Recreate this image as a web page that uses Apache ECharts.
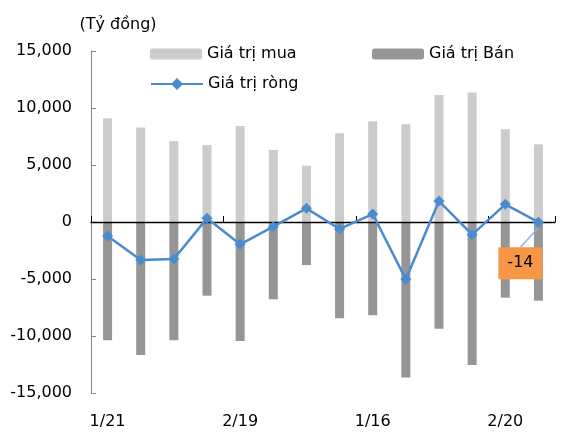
<!DOCTYPE html>
<html>
<head>
<meta charset="utf-8">
<script src="https://cdn.jsdelivr.net/npm/echarts@6/dist/echarts.min.js"></script>
<style>
html,body{margin:0;padding:0;background:#fff;}
#c{width:581px;height:435px;}
</style>
</head>
<body>
<div id="c"></div>
<script>
const categories = ['1/21','','','','2/19','','','','1/16','','','','2/20',''];
const buyValues  = [9100, 8280, 7100, 6750, 8420, 6320, 4940, 7780, 8830, 8570, 11140, 11370, 8130, 6810];
const sellValues = [-10380, -11670, -10380, -6460, -10440, -6780, -3780, -8450, -8190, -13630, -9360, -12540, -6640, -6900];
const netValues  = [-1230, -3330, -3250, 320, -1960, -410, 1200, -610, 700, -5030, 1840, -1110, 1550, -14];
const seriesNames = ['Giá trị mua', 'Giá trị Bán', 'Giá trị ròng'];
const yTicks = { min: -15000, max: 15000, interval: 5000 };
const unitLabel = '(Tỷ đồng)';

const FONT = 'DejaVu Sans';
const chart = echarts.init(document.getElementById('c'), null, {renderer: 'canvas'});
const fmt = v => (v < 0 ? '-' : '') + Math.abs(v).toString().replace(/\B(?=(\d{3})+(?!\d))/g, ',');

const lastIdx = netValues.length - 1;
const netData = netValues.map((v, i) => i === lastIdx ? {
  value: v,
  label: {
    show: true, position: 'inside', formatter: String(v),
    backgroundColor: '#F79646', color: '#000', fontSize: 16, fontFamily: FONT,
    padding: [7, 9, 6, 9], lineHeight: 19
  },
  labelLine: { show: true, lineStyle: { color: '#8DB4E2', width: 1.5 } }
} : v);

const legendBase = {
  itemWidth: 52, itemHeight: 11, itemGap: 10, padding: 0,
  textStyle: { fontSize: 16, color: '#000', fontFamily: FONT },
  selectedMode: false
};

chart.setOption({
  animation: false,
  textStyle: { fontFamily: FONT },
  grid: { left: 91, right: 26, top: 51, bottom: 42, containLabel: false },
  legend: [
    Object.assign({}, legendBase, { data: [seriesNames[0]], left: 150, top: 46 }),
    Object.assign({}, legendBase, { data: [seriesNames[1]], left: 372, top: 46 }),
    Object.assign({}, legendBase, { data: [seriesNames[2]], left: 150, top: 76, itemHeight: 15 })
  ],
  xAxis: [
    {
      type: 'category', data: categories, boundaryGap: true, z: 5,
      axisLine: { onZero: true, lineStyle: { color: '#000', width: 1.3 } },
      axisTick: { show: true, inside: true, length: 6, interval: 3, lineStyle: { color: '#000' } },
      axisLabel: { show: false }
    },
    {
      type: 'category', data: categories, boundaryGap: true, position: 'bottom',
      axisLine: { show: false, onZero: false }, axisTick: { show: false },
      axisLabel: { show: true, interval: 3, margin: 21, fontSize: 16, color: '#000', fontFamily: FONT }
    }
  ],
  yAxis: {
    type: 'value', min: yTicks.min, max: yTicks.max, interval: yTicks.interval,
    name: unitLabel, nameLocation: 'end', nameGap: 18,
    nameTextStyle: { fontSize: 16, color: '#000', fontFamily: FONT, align: 'center', padding: [0, 0, 0, 54] },
    axisLine: { show: true, lineStyle: { color: '#868686', width: 1 } },
    axisTick: { show: true, inside: true, length: 5, lineStyle: { color: '#868686' } },
    splitLine: { show: false },
    axisLabel: { margin: 19, fontSize: 16, color: '#000', fontFamily: FONT, formatter: fmt }
  },
  series: [
    { name: seriesNames[0], type: 'bar', data: buyValues, barWidth: 9, barGap: '-100%',
      itemStyle: { color: '#CCCCCC' } },
    { name: seriesNames[1], type: 'bar', data: sellValues, barWidth: 9, barGap: '-100%',
      itemStyle: { color: '#969696' } },
    { name: seriesNames[2], type: 'line', data: netData, z: 10,
      symbol: 'diamond', symbolSize: 11,
      lineStyle: { color: '#4A8BD0', width: 2.5 }, itemStyle: { color: '#4A8BD0' },
      labelLayout: p => p.dataIndex === lastIdx ? { dx: -18, dy: 41 } : {} }
  ]
});
</script>
</body>
</html>
